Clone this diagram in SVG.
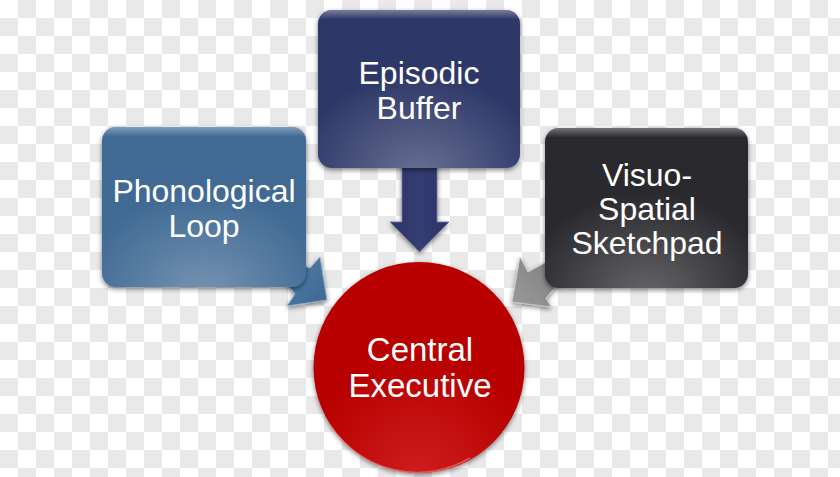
<svg xmlns="http://www.w3.org/2000/svg" width="840" height="477" viewBox="0 0 840 477">
<defs>
  <pattern id="checker" x="0" y="0" width="36" height="36" patternUnits="userSpaceOnUse">
    <rect width="36" height="36" fill="#ffffff"/>
    <rect x="18" y="0" width="18" height="18" fill="#e9e9e9"/>
    <rect x="0" y="18" width="18" height="18" fill="#e9e9e9"/>
  </pattern>
  <filter id="shadow" x="-20%" y="-20%" width="140%" height="140%">
    <feDropShadow dx="0" dy="2" stdDeviation="2.5" flood-color="#000" flood-opacity="0.5"/>
  </filter>
  <radialGradient id="glow" cx="0.5" cy="1" r="0.6" fx="0.5" fy="1.05">
    <stop offset="0" stop-color="#ffffff" stop-opacity="0.28"/>
    <stop offset="1" stop-color="#ffffff" stop-opacity="0"/>
  </radialGradient>
  <linearGradient id="topHi" x1="0" y1="0" x2="0" y2="1">
    <stop offset="0" stop-color="#ffffff" stop-opacity="0.35"/>
    <stop offset="0.06" stop-color="#ffffff" stop-opacity="0"/>
    <stop offset="1" stop-color="#ffffff" stop-opacity="0"/>
  </linearGradient>
  <linearGradient id="blueArrow" x1="0" y1="0" x2="1" y2="1">
    <stop offset="0" stop-color="#4f80ab"/>
    <stop offset="1" stop-color="#3d6890"/>
  </linearGradient>
  <linearGradient id="grayArrow" x1="1" y1="0" x2="0" y2="1">
    <stop offset="0" stop-color="#7d7d7d"/>
    <stop offset="1" stop-color="#9a9a9a"/>
  </linearGradient>
  <linearGradient id="navyArrow" x1="0" y1="0" x2="1" y2="0">
    <stop offset="0" stop-color="#2c3465"/>
    <stop offset="0.5" stop-color="#343d72"/>
    <stop offset="1" stop-color="#2c3465"/>
  </linearGradient>
  <radialGradient id="circGlow" cx="0.5" cy="1" r="0.55">
    <stop offset="0" stop-color="#ff6060" stop-opacity="0.3"/>
    <stop offset="1" stop-color="#ff6060" stop-opacity="0"/>
  </radialGradient>
  <style>
    .lbl { font-family: "Liberation Sans", Arial, sans-serif; font-size: 32px; fill: #ffffff; text-anchor: middle; }
    .big { font-size: 33px; }
    .hi { fill: url(#glow); }
    .top { fill: url(#topHi); }
  </style>
</defs>

<rect width="840" height="477" fill="url(#checker)"/>

<g id="connectors" filter="url(#shadow)">
  <polygon points="300,265 310,268 320,257 327,300 287,306 295,294 284,280" fill="url(#blueArrow)" stroke="#8fb5d6" stroke-width="0.8"/>
  <polygon points="402,160 437,160 437,222 449,222 419.5,252 390,222 402,222" fill="url(#navyArrow)" stroke="#6a74a8" stroke-width="0.8"/>
  <polygon points="550,260 528,272 520,257 512,302 551,307 546,298 560,282" fill="url(#grayArrow)" stroke="#d0d0d0" stroke-width="0.8"/>
</g>

<g id="phonological-loop">
  <rect x="102" y="127" width="204" height="160" rx="14" fill="#3f6b94" filter="url(#shadow)"/>
  <rect x="102" y="127" width="204" height="160" rx="14" class="hi"/>
  <rect x="102" y="127" width="204" height="160" rx="14" class="top"/>
  <text class="lbl" x="204" y="202">Phonological</text>
  <text class="lbl" x="204" y="237">Loop</text>
</g>

<g id="episodic-buffer">
  <rect x="318" y="10" width="202" height="158" rx="14" fill="#2f3768" filter="url(#shadow)"/>
  <rect x="318" y="10" width="202" height="158" rx="14" class="hi"/>
  <rect x="318" y="10" width="202" height="158" rx="14" class="top"/>
  <text class="lbl" x="419" y="84">Episodic</text>
  <text class="lbl" x="419" y="119">Buffer</text>
</g>

<g id="visuo-spatial-sketchpad">
  <rect x="545" y="128" width="203" height="160" rx="14" fill="#2b2b2d" filter="url(#shadow)"/>
  <rect x="545" y="128" width="203" height="160" rx="14" class="hi"/>
  <rect x="545" y="128" width="203" height="160" rx="14" class="top"/>
  <text class="lbl" x="647" y="186">Visuo-</text>
  <text class="lbl" x="647" y="220">Spatial</text>
  <text class="lbl" x="647" y="254">Sketchpad</text>
</g>

<g id="central-executive">
  <circle cx="419" cy="367.5" r="105.5" fill="#b80006" filter="url(#shadow)"/>
  <circle cx="419" cy="367.5" r="105.5" fill="url(#circGlow)"/>
  <path d="M 330 425 A 104 104 0 0 0 470 458" fill="none" stroke="#ff8a8a" stroke-opacity="0.55" stroke-width="1.5"/>
  <text class="lbl big" x="420" y="361">Central</text>
  <text class="lbl big" x="420" y="397">Executive</text>
</g>
</svg>
